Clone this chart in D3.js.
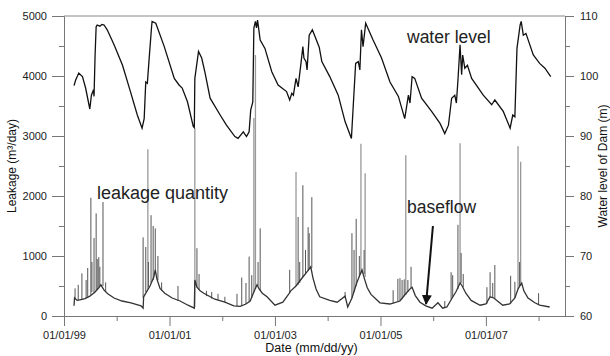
<!DOCTYPE html>
<html>
<head>
<meta charset="utf-8">
<script src="https://cdn.jsdelivr.net/npm/d3@7"></script>
<style>
  body { margin: 0; background: #fff; }
  svg { display: block; font-family: "Liberation Sans", Arial, sans-serif; }
  .axis path, .axis line { stroke: #777; }
  .axis text { fill: #222; font-size: 11px; }
</style>
</head>
<body>
<div id="chart"></div>
<script>
// dates are decimal years
const majorYears = [1999, 2001, 2003, 2005, 2007];
const minorYears = [2000, 2002, 2004, 2006, 2008];
const leakTicks = [0, 1000, 2000, 3000, 4000, 5000];
const leakMinor = [500, 1500, 2500, 3500, 4500];
const levelTicks = [60, 70, 80, 90, 100, 110];
const levelMinor = [65, 75, 85, 95, 105];

// water level of dam (m)
const levelYear = [1999.19, 1999.22, 1999.28, 1999.35, 1999.41, 1999.49, 1999.52, 1999.56, 1999.57, 1999.59,
  1999.61, 1999.63, 1999.68, 1999.72, 1999.76, 1999.82, 1999.95, 2000.11, 2000.26, 2000.39,
  2000.48, 2000.52, 2000.55, 2000.58, 2000.61, 2000.66, 2000.67, 2000.74, 2000.90, 2001.09,
  2001.18, 2001.24, 2001.34, 2001.45, 2001.47, 2001.48, 2001.55, 2001.61, 2001.67, 2001.77,
  2001.96, 2002.08, 2002.24, 2002.30, 2002.40, 2002.46, 2002.51, 2002.54, 2002.58, 2002.60,
  2002.63, 2002.65, 2002.67, 2002.72, 2002.81, 2002.94, 2003.06, 2003.22, 2003.28, 2003.32,
  2003.35, 2003.40, 2003.44, 2003.49, 2003.53, 2003.55, 2003.59, 2003.61, 2003.65, 2003.71,
  2003.84, 2003.89, 2004.04, 2004.20, 2004.33, 2004.45, 2004.48, 2004.53, 2004.58, 2004.61,
  2004.64, 2004.67, 2004.72, 2004.86, 2005.02, 2005.18, 2005.34, 2005.46, 2005.53, 2005.56,
  2005.60, 2005.65, 2005.78, 2005.97, 2006.13, 2006.22, 2006.29, 2006.35, 2006.41, 2006.44,
  2006.47, 2006.51, 2006.52, 2006.54, 2006.56, 2006.60, 2006.65, 2006.73, 2006.95, 2007.11,
  2007.17, 2007.33, 2007.46, 2007.51, 2007.55, 2007.59, 2007.65, 2007.67, 2007.71, 2007.76,
  2007.90, 2008.02, 2008.12, 2008.23];
const levelValue = [98.4, 99.3, 100.5, 99.9, 98.0, 94.5, 96.8, 97.7, 96.6, 103.5,
  108.2, 108.5, 108.3, 108.6, 108.5, 107.7, 105.2, 101.8, 97.4, 93.5,
  91.3, 92.9, 99.0, 98.8, 102.4, 108.2, 109.1, 108.8, 104.9, 99.6,
  98.5, 98.0, 95.7, 91.6, 91.4, 99.6, 104.1, 103.0, 100.7, 96.3,
  93.5, 91.8, 89.9, 89.6, 90.7, 89.9, 90.7, 94.3, 95.7, 108.0,
  109.1, 108.0, 109.3, 106.0, 104.6, 100.7, 98.5, 97.4, 96.0, 97.1,
  96.8, 99.6, 98.2, 101.8, 104.9, 103.0, 102.4, 101.0, 106.8, 107.7,
  104.8, 102.4, 99.9, 96.8, 92.4, 89.6, 94.3, 102.1, 102.4, 101.0,
  107.7, 104.9, 108.8, 106.0, 103.0, 99.0, 96.6, 92.9, 96.8, 95.5,
  99.9, 99.6, 96.3, 94.1, 92.1, 90.4, 91.8, 96.3, 96.8, 95.5,
  99.3, 105.2, 103.5, 100.2, 103.5, 101.3, 101.8, 99.6, 96.8, 95.2,
  96.0, 94.1, 91.3, 93.5, 93.2, 104.6, 108.5, 109.1, 106.8, 107.1,
  103.5, 102.1, 101.3, 99.9];

// leakage (m3/day), base line
const leakYear = [1999.19, 1999.20, 1999.25, 1999.30, 1999.40, 1999.49, 1999.59, 1999.66, 1999.70, 1999.76,
  1999.83, 1999.95, 2000.10, 2000.27, 2000.46, 2000.50, 2000.51, 2000.63, 2000.70, 2000.73,
  2000.76, 2000.82, 2000.91, 2001.05, 2001.20, 2001.35, 2001.47, 2001.48, 2001.52, 2001.58,
  2001.65, 2001.86, 2002.05, 2002.22, 2002.34, 2002.45, 2002.53, 2002.60, 2002.66, 2002.70,
  2002.76, 2002.85, 2003.00, 2003.15, 2003.25, 2003.30, 2003.40, 2003.53, 2003.63, 2003.68,
  2003.72, 2003.78, 2003.85, 2004.04, 2004.18, 2004.33, 2004.38, 2004.46, 2004.55, 2004.65,
  2004.69, 2004.75, 2004.82, 2004.99, 2005.18, 2005.37, 2005.46, 2005.57, 2005.60, 2005.66,
  2005.75, 2005.86, 2005.98, 2006.09, 2006.18, 2006.26, 2006.36, 2006.43, 2006.51, 2006.55,
  2006.62, 2006.72, 2006.89, 2007.00, 2007.08, 2007.15, 2007.32, 2007.45, 2007.55, 2007.61,
  2007.68, 2007.72, 2007.80, 2007.93, 2008.02, 2008.21];
const leakValue = [170, 300, 260, 270, 290, 330, 400, 470, 520, 430,
  370, 300, 250, 220, 170, 130, 320, 500, 640, 770,
  620, 460, 380, 300, 250, 180, 130, 600, 480, 420,
  380, 280, 230, 170, 160, 200, 250, 400, 520, 450,
  380, 320, 180, 230, 350, 420, 500, 650, 760, 820,
  640, 450, 320, 260, 230, 330, 150, 300, 550, 770,
  640, 470, 360, 220, 200, 250, 350, 460, 480, 340,
  230, 170, 130, 220, 130, 150, 300, 400, 550, 500,
  380, 260, 180, 200, 320, 300, 180, 200, 300, 450,
  550, 420, 300, 220, 180, 150];

// daily peaks [year, base, peak]
const darkSpikes = [
  [1999.21, 280, 460], [1999.27, 260, 520], [1999.34, 280, 710], [1999.42, 300, 600],
  [1999.45, 320, 800], [1999.51, 350, 1970], [1999.53, 400, 900], [1999.57, 380, 1300],
  [1999.61, 420, 1710], [1999.63, 450, 950], [1999.66, 480, 980], [1999.68, 500, 820],
  [1999.74, 500, 1900], [1999.79, 400, 560],
  [2000.50, 300, 1310], [2000.55, 400, 1150], [2000.60, 480, 900], [2000.65, 550, 1680],
  [2000.69, 600, 1500], [2000.73, 700, 1460], [2000.78, 600, 1000], [2000.85, 420, 560],
  [2001.16, 250, 500],
  [2001.52, 480, 1130], [2001.56, 440, 700], [2001.70, 330, 420], [2001.80, 290, 400],
  [2001.92, 270, 370], [2002.05, 230, 320],
  [2002.28, 165, 370], [2002.37, 170, 640], [2002.45, 200, 550], [2002.51, 240, 990],
  [2002.56, 300, 680], [2002.68, 500, 900], [2002.72, 430, 1460],
  [2003.28, 380, 770], [2003.44, 520, 1650], [2003.47, 550, 900], [2003.53, 650, 2180],
  [2003.58, 700, 1100], [2003.63, 750, 1480], [2003.65, 780, 1380], [2003.70, 800, 1980],
  [2004.33, 300, 400], [2004.46, 300, 1380], [2004.50, 400, 1100], [2004.54, 500, 1620],
  [2004.60, 650, 1000], [2004.69, 700, 1100], [2005.24, 210, 430], [2005.33, 240, 620],
  [2005.37, 250, 630], [2005.41, 280, 600], [2005.45, 330, 610], [2005.52, 400, 600], [2005.58, 460, 820],
  [2006.22, 140, 250], [2006.34, 280, 730], [2006.37, 320, 680], [2006.47, 450, 1520], [2006.53, 550, 1050],
  [2006.57, 480, 700],
  [2007.02, 200, 480], [2007.08, 320, 730], [2007.13, 310, 550], [2007.17, 290, 850],
  [2007.47, 200, 670], [2007.55, 300, 570], [2007.64, 500, 900], [2008.00, 190, 380]
];
const lightSpikes = [
  [2000.59, 450, 2780], [2001.48, 150, 3130], [2002.60, 400, 3300], [2002.63, 450, 4350],
  [2003.40, 500, 2400], [2004.63, 700, 2870], [2004.71, 650, 2380], [2005.48, 350, 2680],
  [2006.51, 550, 2880], [2007.61, 450, 2830], [2007.66, 500, 2570]
];

function toDate(y) {
  const Y = Math.floor(y);
  const a = new Date(Y, 0, 1), b = new Date(Y + 1, 0, 1);
  return new Date(+a + (y - Y) * (b - a));
}

const W = 610, H = 356;
const margin = { top: 16, right: 45, bottom: 40, left: 64 };
const width = W - margin.left - margin.right;
const height = H - margin.top - margin.bottom;

const svg = d3.select('#chart').append('svg')
  .attr('width', W).attr('height', H)
  .append('g')
  .attr('transform', `translate(${margin.left},${margin.top})`);

const x = d3.scaleTime().domain([toDate(1999), toDate(2008.5)]).range([0, width]);
const yLeak = d3.scaleLinear().domain([0, 5000]).range([height, 0]);
const yLevel = d3.scaleLinear().domain([60, 110]).range([height, 0]);

const fmt = d3.timeFormat('%m/%d/%y');

// top frame line
svg.append('line')
  .attr('x1', 0).attr('x2', width).attr('y1', 0).attr('y2', 0)
  .attr('stroke', '#888');

// x axis
svg.append('g').attr('class', 'axis')
  .attr('transform', `translate(0,${height})`)
  .call(d3.axisBottom(x).tickValues(minorYears.map(toDate)).tickSize(5).tickSizeOuter(0).tickFormat(''));
svg.append('g').attr('class', 'axis')
  .attr('transform', `translate(0,${height})`)
  .call(d3.axisBottom(x).tickValues(majorYears.map(toDate)).tickSize(10).tickPadding(5).tickSizeOuter(0).tickFormat(fmt));

// left axis
svg.append('g').attr('class', 'axis')
  .call(d3.axisLeft(yLeak).tickValues(leakMinor).tickSize(5).tickSizeOuter(0).tickFormat(''));
svg.append('g').attr('class', 'axis')
  .call(d3.axisLeft(yLeak).tickValues(leakTicks).tickSize(12).tickPadding(5).tickSizeOuter(0)
    .tickFormat(d3.format('d')));

// right axis
svg.append('g').attr('class', 'axis')
  .attr('transform', `translate(${width},0)`)
  .call(d3.axisRight(yLevel).tickValues(levelMinor).tickSize(5).tickSizeOuter(0).tickFormat(''));
svg.append('g').attr('class', 'axis')
  .attr('transform', `translate(${width},0)`)
  .call(d3.axisRight(yLevel).tickValues(levelTicks).tickSize(9).tickPadding(6).tickSizeOuter(0));

// axis titles
svg.append('text')
  .attr('transform', `translate(${16 - margin.left},${height / 2}) rotate(-90)`)
  .attr('text-anchor', 'middle').attr('font-size', '12px').attr('fill', '#111')
  .text('Leakage (m³/day)');
svg.append('text')
  .attr('transform', `translate(${width + 42},${height / 2}) rotate(-90)`)
  .attr('text-anchor', 'middle').attr('font-size', '12px').attr('fill', '#111')
  .text('Water level of Dam (m)');
svg.append('text')
  .attr('x', width / 2 - 3).attr('y', height + 36)
  .attr('text-anchor', 'middle').attr('font-size', '12.5px').attr('fill', '#111')
  .text('Date (mm/dd/yy)');

// leakage peaks
svg.selectAll('.lspike').data(lightSpikes).join('line')
  .attr('x1', d => x(toDate(d[0]))).attr('x2', d => x(toDate(d[0])))
  .attr('y1', d => yLeak(d[1])).attr('y2', d => yLeak(d[2]))
  .attr('stroke', '#999').attr('stroke-width', 1.3);
svg.selectAll('.dspike').data(darkSpikes).join('line')
  .attr('x1', d => x(toDate(d[0]))).attr('x2', d => x(toDate(d[0])))
  .attr('y1', d => yLeak(d[1])).attr('y2', d => yLeak(d[2]))
  .attr('stroke', '#555').attr('stroke-width', 1);

// leakage base line
svg.append('path')
  .datum(leakYear.map((t, i) => [t, leakValue[i]]))
  .attr('fill', 'none').attr('stroke', '#333').attr('stroke-width', 1.3)
  .attr('d', d3.line()
    .x(d => x(toDate(d[0])))
    .y(d => yLeak(d[1])));

// water level line
svg.append('path')
  .datum(levelYear.map((t, i) => [t, levelValue[i]]))
  .attr('fill', 'none').attr('stroke', '#111').attr('stroke-width', 1.3)
  .attr('d', d3.line()
    .x(d => x(toDate(d[0])))
    .y(d => yLevel(d[1])));

// annotations
svg.append('text').attr('x', 33).attr('y', 183)
  .attr('font-size', '18px').attr('fill', '#222').text('leakage quantity');
svg.append('text').attr('x', 343).attr('y', 27)
  .attr('font-size', '17.5px').attr('fill', '#222').text('water level');
svg.append('text').attr('x', 343).attr('y', 197)
  .attr('font-size', '17.5px').attr('fill', '#222').text('baseflow');

svg.append('defs').append('marker')
  .attr('id', 'arrow').attr('viewBox', '0 0 10 10')
  .attr('refX', 9).attr('refY', 5)
  .attr('markerWidth', 5).attr('markerHeight', 5)
  .attr('orient', 'auto')
  .append('path').attr('d', 'M0,0L10,5L0,10Z').attr('fill', '#111');
svg.append('line')
  .attr('x1', x(toDate(2005.995))).attr('y1', yLeak(1500))
  .attr('x2', x(toDate(2005.865))).attr('y2', yLeak(200))
  .attr('stroke', '#111').attr('stroke-width', 2)
  .attr('marker-end', 'url(#arrow)');
</script>
</body>
</html>
